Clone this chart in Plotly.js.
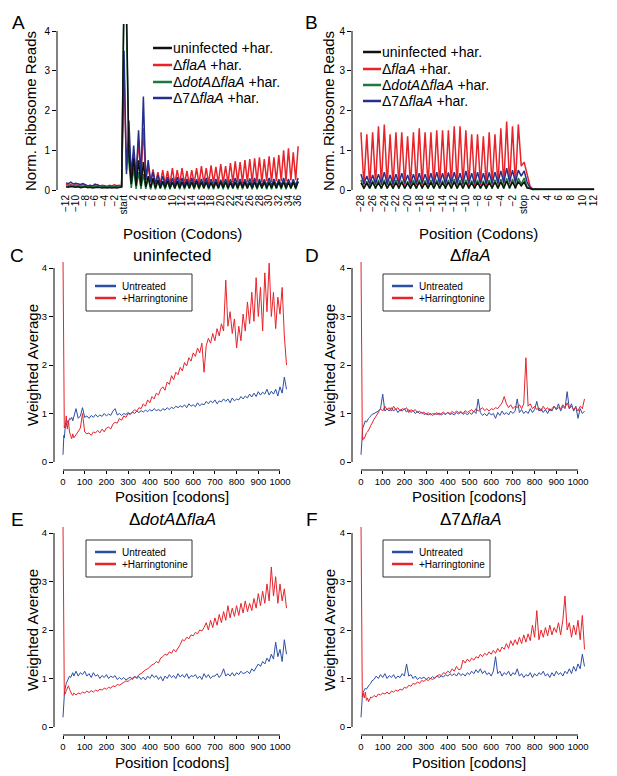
<!DOCTYPE html>
<html><head><meta charset="utf-8">
<script src="https://cdn.plot.ly/plotly-3.0.1.min.js"></script>
<style>body{margin:0;padding:0;background:#fff}#chart{width:617px;height:776px}</style>
</head><body><div id="chart"></div>
<script>
// ---------- Panel A data (codon resolution: peak at each codon, trough between) ----------
const A_blackPre = [0.08,0.07,0.09,0.08,0.07,0.08,0.06,0.07,0.08,0.06,0.07,0.05,0.06,0.07,0.06,0.05,0.06,0.05,0.06,0.05,0.06,0.05,0.06,0.07];
const A_blackPeak = [5.0,0.95,0.8,0.75,0.7,0.35,0.3,0.25,0.22,0.24,0.2,0.22,0.2,0.21,0.2,0.22,0.2,0.21,0.19,0.2,0.21,0.2,0.19,0.2,0.21,0.2,0.19,0.2,0.21,0.2,0.19,0.2,0.21,0.2,0.19,0.2,0.21];
const A_blackTrough = [4.6,0.15,0.1,0.1,0.08,0.06,0.05,0.05,0.06,0.05,0.05,0.05,0.06,0.05,0.05,0.05,0.06,0.05,0.05,0.05,0.06,0.05,0.05,0.05,0.06,0.05,0.05,0.05,0.06,0.05,0.05,0.05,0.06,0.05,0.05,0.05];
const A_redPre = [0.15,0.12,0.14,0.10,0.13,0.12,0.10,0.14,0.12,0.10,0.11,0.09,0.12,0.14,0.10,0.12,0.11,0.09,0.12,0.10,0.13,0.11,0.12,0.10];
const A_redPeak = [3.0,1.2,0.9,1.25,1.55,0.6,0.52,0.45,0.5,0.48,0.55,0.5,0.55,0.48,0.5,0.55,0.6,0.55,0.62,0.58,0.65,0.6,0.68,0.72,0.7,0.75,0.78,0.8,0.82,0.78,0.85,0.82,0.88,1.0,1.05,0.95,1.1];
const A_redTrough = [0.5,0.4,0.3,0.3,0.25,0.2,0.15,0.15,0.15,0.14,0.15,0.16,0.15,0.14,0.16,0.15,0.17,0.16,0.18,0.17,0.18,0.17,0.19,0.2,0.18,0.2,0.19,0.21,0.2,0.22,0.2,0.22,0.23,0.22,0.24,0.25];
const A_greenPre = [0.1,0.09,0.11,0.1,0.09,0.1,0.08,0.09,0.1,0.08,0.09,0.07,0.08,0.09,0.08,0.07,0.08,0.07,0.08,0.07,0.08,0.07,0.08,0.08];
const A_greenPeak = [5.0,0.7,0.55,0.45,0.4,0.3,0.25,0.22,0.2,0.22,0.2,0.21,0.22,0.2,0.21,0.22,0.2,0.21,0.22,0.2,0.21,0.22,0.2,0.21,0.22,0.2,0.21,0.22,0.2,0.21,0.22,0.2,0.21,0.22,0.2,0.21,0.22];
const A_greenTrough = [4.3,0.05,0.03,0.03,0.03,0.02,0.02,0.03,0.02,0.02,0.03,0.02,0.02,0.03,0.02,0.02,0.03,0.02,0.02,0.03,0.02,0.02,0.03,0.02,0.02,0.03,0.02,0.02,0.03,0.02,0.02,0.03,0.02,0.02,0.03,0.02];
const A_bluePre = [0.18,0.16,0.2,0.15,0.17,0.15,0.14,0.16,0.12,0.1,0.12,0.1,0.15,0.12,0.1,0.09,0.1,0.08,0.1,0.09,0.08,0.1,0.09,0.1];
const A_bluePeak = [3.5,1.75,1.12,1.5,2.35,0.75,0.45,0.38,0.35,0.33,0.3,0.32,0.3,0.28,0.3,0.27,0.28,0.3,0.27,0.28,0.26,0.28,0.27,0.3,0.28,0.27,0.29,0.3,0.28,0.27,0.3,0.28,0.27,0.3,0.28,0.27,0.3];
const A_blueTrough = [0.4,0.35,0.3,0.3,0.25,0.2,0.15,0.12,0.12,0.11,0.1,0.11,0.1,0.1,0.11,0.1,0.1,0.11,0.1,0.1,0.11,0.1,0.1,0.11,0.1,0.1,0.11,0.1,0.1,0.11,0.1,0.1,0.11,0.1,0.1,0.11];
const A_tickVals = [-12,-10,-8,-6,-4,-2,0,2,4,6,8,10,12,14,16,18,20,22,24,26,28,30,32,34,36];
const A_tickText = ['\u221212','\u221210','\u22128','\u22126','\u22124','\u22122','start','2','4','6','8','10','12','14','16','18','20','22','24','26','28','30','32','34','36'];

// ---------- Panel B data (codons -28..12) ----------
const B_blackPeak = [0.18,0.17,0.19,0.18,0.2,0.17,0.18,0.19,0.17,0.18,0.19,0.18,0.19,0.2,0.18,0.19,0.2,0.18,0.19,0.18,0.19,0.17,0.18,0.19,0.2,0.22,0.2,0.21,0.2,0.04,0.02,0.02,0.02,0.02,0.02,0.02,0.02,0.02,0.02,0.02,0.02];
const B_blackTrough = [0.05,0.05,0.06,0.05,0.05,0.05,0.06,0.05,0.05,0.05,0.06,0.05,0.05,0.05,0.06,0.05,0.05,0.05,0.06,0.05,0.05,0.05,0.06,0.05,0.05,0.06,0.06,0.1,0.05,0.02,0.02,0.02,0.02,0.02,0.02,0.02,0.02,0.02,0.02,0.02];
const B_redPeak = [1.45,1.4,1.45,1.6,1.65,1.4,1.45,1.45,1.35,1.45,1.55,1.45,1.45,1.5,1.5,1.5,1.6,1.6,1.5,1.4,1.4,1.35,1.45,1.4,1.55,1.72,1.6,1.65,0.7,0.1,0.03,0.02,0.02,0.02,0.02,0.02,0.02,0.02,0.02,0.02,0.02];
const B_redTrough = [0.12,0.1,0.12,0.13,0.12,0.1,0.12,0.11,0.1,0.12,0.12,0.11,0.12,0.12,0.11,0.12,0.13,0.12,0.11,0.1,0.11,0.1,0.12,0.11,0.12,0.14,0.13,0.6,0.4,0.02,0.02,0.02,0.02,0.02,0.02,0.02,0.02,0.02,0.02,0.02];
const B_greenPeak = [0.25,0.22,0.24,0.25,0.26,0.23,0.25,0.24,0.22,0.25,0.26,0.24,0.25,0.26,0.24,0.25,0.27,0.25,0.26,0.24,0.25,0.23,0.25,0.26,0.27,0.3,0.28,0.3,0.3,0.04,0.02,0.01,0.01,0.01,0.01,0.01,0.01,0.01,0.01,0.01,0.01];
const B_greenTrough = [0.03,0.03,0.03,0.03,0.03,0.03,0.03,0.03,0.03,0.03,0.03,0.03,0.03,0.03,0.03,0.03,0.03,0.03,0.03,0.03,0.03,0.03,0.03,0.03,0.03,0.03,0.03,0.15,0.08,0.01,0.01,0.01,0.01,0.01,0.01,0.01,0.01,0.01,0.01,0.01];
const B_bluePeak = [0.4,0.35,0.38,0.4,0.45,0.38,0.4,0.42,0.38,0.4,0.42,0.4,0.42,0.45,0.42,0.44,0.45,0.42,0.48,0.42,0.45,0.42,0.44,0.45,0.48,0.55,0.5,0.5,0.48,0.06,0.02,0.02,0.02,0.02,0.02,0.02,0.02,0.02,0.02,0.02,0.02];
const B_blueTrough = [0.15,0.14,0.15,0.16,0.15,0.14,0.15,0.16,0.14,0.15,0.16,0.15,0.15,0.16,0.15,0.16,0.17,0.15,0.16,0.15,0.16,0.15,0.16,0.17,0.18,0.2,0.19,0.35,0.2,0.02,0.02,0.02,0.02,0.02,0.02,0.02,0.02,0.02,0.02,0.02];
const B_tickVals = [-28,-26,-24,-22,-20,-18,-16,-14,-12,-10,-8,-6,-4,-2,0,2,4,6,8,10,12];
const B_tickText = ['\u221228','\u221226','\u221224','\u221222','\u221220','\u221218','\u221216','\u221214','\u221212','\u221210','\u22128','\u22126','\u22124','\u22122','stop','2','4','6','8','10','12'];

// ---------- Panels C-F data: weighted average vs position (codons) ----------
const earlyPos = [0,2,4,6,8,10,15,20,25,30,35,40,45,50];
const C_untreated = [0.15,0.45,0.55,0.5,0.65,0.7,0.75,0.85,0.82,0.9,0.88,0.92,0.85,0.95,
 1.1,0.9,0.95,1.12,0.92,0.95,0.9,0.96,0.92,0.98,
 0.93,0.97,0.94,1.0,0.95,0.99,0.96,1.05,1.1,0.97,
 1.0,0.96,1.0,0.98,1.02,0.99,1.03,1.0,1.05,1.02,
 1.06,1.03,1.07,1.04,1.08,1.05,1.1,1.06,1.08,1.05,
 1.1,1.07,1.12,1.08,1.13,1.1,1.15,1.12,1.16,1.13,
 1.18,1.12,1.2,1.15,1.18,1.14,1.22,1.16,1.2,1.18,
 1.25,1.2,1.26,1.22,1.28,1.2,1.26,1.24,1.3,1.25,
 1.3,1.22,1.32,1.26,1.3,1.28,1.35,1.3,1.36,1.32,
 1.4,1.34,1.42,1.35,1.45,1.38,1.44,1.4,1.5,1.38,
 1.46,1.4,1.5,1.36,1.55,1.42,1.75,1.5];
const C_harr = [4.2,2.9,0.85,0.7,0.75,0.72,0.95,0.68,0.85,0.62,0.55,0.48,0.58,0.5,
 0.56,0.62,0.7,1.0,0.62,0.58,0.6,0.55,0.62,0.6,
 0.65,0.6,0.68,0.62,0.7,0.72,0.68,0.78,0.82,0.8,
 0.9,0.86,0.95,0.92,1.0,0.98,1.02,1.08,1.05,1.12,
 1.1,1.2,1.15,1.28,1.22,1.35,1.3,1.42,1.38,1.5,
 1.55,1.48,1.65,1.6,1.78,1.7,1.85,1.8,1.95,1.88,
 2.05,1.98,2.15,2.08,2.25,2.18,2.35,2.25,2.45,1.85,
 2.4,2.55,2.45,2.65,2.5,2.75,2.6,2.85,2.7,3.75,
 2.8,3.1,2.65,2.95,2.35,2.8,2.5,3.05,2.7,3.3,
 2.85,3.5,2.9,3.8,3.0,3.6,2.7,3.9,3.1,4.1,
 3.0,3.5,2.75,3.4,3.05,3.6,2.6,2.0];
const D_untreated = [0.15,0.35,0.5,0.6,0.7,0.72,0.8,0.85,0.82,0.88,0.9,0.92,0.95,0.98,
 1.0,1.02,1.05,1.1,1.4,1.05,1.1,1.05,1.12,1.05,
 1.1,1.02,1.08,1.05,1.1,1.03,1.08,1.02,1.06,1.0,
 1.04,1.0,1.03,0.98,1.0,0.97,1.0,0.96,1.0,0.98,
 1.01,0.97,1.0,0.98,1.02,0.98,1.0,0.97,1.02,0.99,
 1.03,0.98,1.02,0.97,1.02,0.98,1.05,1.0,1.3,1.02,
 0.96,1.0,0.95,1.02,0.97,1.0,0.9,1.02,0.96,1.05,
 0.98,1.02,0.97,1.05,1.0,1.05,1.3,1.02,1.08,1.0,
 1.05,1.0,1.1,1.02,1.08,1.25,1.05,1.1,1.02,1.08,
 1.0,1.1,1.05,1.15,1.08,1.2,1.05,1.15,1.1,1.45,
 1.1,1.2,1.05,1.15,0.9,1.1,1.0,1.05];
const D_harr = [4.2,1.5,0.8,0.5,0.45,0.5,0.48,0.55,0.6,0.62,0.68,0.7,0.75,0.8,
 0.88,0.95,1.02,1.1,1.05,1.15,1.08,1.12,1.05,1.15,
 1.08,1.12,1.05,1.1,1.08,1.12,1.02,1.08,1.05,1.08,
 1.02,1.05,1.0,1.03,0.98,1.02,0.97,1.0,0.98,1.02,
 0.97,1.0,1.03,0.99,1.02,1.0,1.04,1.01,1.05,1.02,
 1.04,1.0,1.06,1.02,1.05,1.08,1.03,1.1,1.05,1.08,
 1.12,1.06,1.1,1.05,1.1,1.08,1.12,1.1,1.15,1.22,
 1.35,1.2,1.12,1.18,1.1,1.15,1.12,1.18,1.1,1.2,
 2.15,1.15,1.2,1.1,1.15,1.08,1.12,1.05,1.15,1.08,
 1.12,1.05,1.1,1.15,1.08,1.12,1.1,1.18,1.12,1.22,
 1.1,1.15,1.08,1.12,1.05,1.15,1.1,1.3];
const E_untreated = [0.2,0.5,0.6,0.65,0.75,0.8,0.9,0.95,1.0,1.05,1.02,1.08,1.12,1.05,
 1.15,1.05,1.12,1.08,1.15,1.05,1.1,1.02,1.12,1.05,
 1.08,1.0,1.06,1.02,1.08,1.0,1.05,1.02,1.06,0.98,
 1.02,0.98,1.02,0.97,1.0,1.03,0.98,1.05,1.0,1.04,
 0.98,1.03,0.97,1.05,1.0,1.08,1.02,1.06,0.98,1.04,
 0.95,1.05,1.0,1.08,1.02,1.06,1.0,1.1,1.03,1.08,
 1.02,1.1,1.0,1.06,1.04,1.08,1.0,1.05,0.98,1.1,
 1.02,1.08,1.0,1.05,1.05,1.1,1.02,1.08,1.2,1.05,
 1.1,1.05,1.12,1.05,1.12,1.08,1.15,1.1,1.12,1.15,
 1.1,1.2,1.15,1.22,1.3,1.25,1.35,1.3,1.42,1.35,
 1.5,1.4,1.75,1.45,1.6,1.35,1.8,1.5];
const E_harr = [4.2,2.5,0.8,0.65,0.7,0.68,0.75,0.8,0.85,0.78,0.72,0.68,0.65,0.7,
 0.66,0.7,0.68,0.72,0.7,0.74,0.71,0.75,0.72,0.76,
 0.74,0.78,0.76,0.8,0.78,0.82,0.8,0.85,0.83,0.88,
 0.86,0.9,0.92,0.95,0.94,0.98,1.0,1.03,1.02,1.08,
 1.1,1.15,1.18,1.2,1.25,1.28,1.3,1.35,1.32,1.42,
 1.45,1.5,1.48,1.55,1.52,1.6,1.55,1.62,1.7,1.8,
 1.78,1.85,1.82,1.9,1.88,1.95,1.92,2.0,1.98,2.05,
 2.15,2.0,2.2,2.05,2.25,2.1,2.32,2.15,2.38,2.2,
 2.5,2.25,2.45,2.28,2.5,2.3,2.55,2.35,2.6,2.38,
 2.55,2.4,2.65,2.45,2.75,2.5,2.8,2.55,2.95,2.6,
 3.3,2.7,3.1,2.55,2.95,2.6,2.85,2.45];
const F_untreated = [0.2,0.5,0.6,0.62,0.7,0.72,0.75,0.8,0.78,0.82,0.85,0.88,0.9,0.95,
 0.98,1.05,1.0,1.08,1.02,1.1,1.0,1.06,1.02,1.08,
 1.0,1.05,1.02,1.1,1.05,1.3,1.05,1.08,1.0,1.05,
 0.98,1.02,1.0,1.03,0.98,1.02,1.0,1.04,1.0,1.06,
 1.02,1.05,1.03,1.08,1.05,1.1,1.06,1.1,1.05,1.12,
 1.06,1.1,1.05,1.12,1.08,1.15,1.1,1.18,1.12,1.2,
 1.1,1.16,1.08,1.12,1.05,1.15,1.45,1.1,1.15,1.05,
 1.12,1.08,1.15,1.05,1.12,1.08,1.2,1.05,1.1,1.02,
 1.08,1.05,1.12,1.02,1.1,1.05,1.12,1.08,1.15,1.05,
 1.1,1.02,1.12,1.05,1.15,1.08,1.12,1.05,1.15,1.1,
 1.2,1.1,1.25,1.15,1.3,1.2,1.5,1.25];
const F_harr = [4.2,2.8,0.75,0.62,0.65,0.7,0.6,0.72,0.55,0.6,0.52,0.58,0.62,0.6,
 0.65,0.62,0.68,0.66,0.7,0.68,0.72,0.68,0.74,0.72,
 0.76,0.74,0.78,0.76,0.82,0.8,0.86,0.84,0.9,0.88,
 0.93,0.9,0.96,0.94,0.98,0.96,1.0,0.98,1.02,1.05,
 1.08,1.06,1.12,1.1,1.15,1.12,1.2,1.15,1.25,1.18,
 1.2,1.38,1.32,1.4,1.35,1.42,1.38,1.45,1.42,1.5,
 1.45,1.52,1.48,1.55,1.5,1.58,1.52,1.62,1.55,1.65,
 1.6,1.72,1.62,1.78,1.68,1.8,1.7,1.85,1.72,1.9,
 1.75,1.92,1.78,2.1,1.85,2.4,1.8,2.0,1.85,2.05,
 1.88,2.1,1.9,2.05,1.95,2.15,1.9,2.2,2.7,2.0,
 2.15,1.85,2.1,1.9,2.2,1.8,2.3,1.6];
const CF_tickVals = [0,100,200,300,400,500,600,700,800,900,1000];

// ---------- helpers ----------
const W = 617, H = 776;
const px = x => x / W, py = y => 1 - y / H;
function codonSeries(pre, peaks, troughs) {
  const v = pre.slice();
  for (let i = 0; i < peaks.length; i++) { v.push(peaks[i]); if (i < troughs.length) v.push(troughs[i]); }
  return v;
}
function halfSteps(start, n) { const x = []; for (let i = 0; i < n; i++) x.push(start + i * 0.5); return x; }
function positions(n) { const x = earlyPos.slice(); for (let k = 0; x.length < n; k++) x.push(60 + 10 * k); return x; }

const COL = {black:'#111111', red:'#e8232a', green:'#1d7a3b', navy:'#262f8c', blue:'#2c4ea3'};
const traces = [];
function addAB(pre, pk, tr, start, color, xa, ya) {
  const y = codonSeries(pre, pk, tr);
  traces.push({type:'scatter', mode:'lines', x: halfSteps(start, y.length), y: y, xaxis: xa, yaxis: ya,
    line:{color: color, width: 1.5}, showlegend:false, hoverinfo:'skip'});
}
addAB(A_redPre, A_redPeak, A_redTrough, -12, COL.red, 'x', 'y');
addAB(A_bluePre, A_bluePeak, A_blueTrough, -12, COL.navy, 'x', 'y');
addAB(A_greenPre, A_greenPeak, A_greenTrough, -12, COL.green, 'x', 'y');
addAB(A_blackPre, A_blackPeak, A_blackTrough, -12, COL.black, 'x', 'y');
addAB([], B_redPeak, B_redTrough, -28, COL.red, 'x2', 'y2');
addAB([], B_bluePeak, B_blueTrough, -28, COL.navy, 'x2', 'y2');
addAB([], B_greenPeak, B_greenTrough, -28, COL.green, 'x2', 'y2');
addAB([], B_blackPeak, B_blackTrough, -28, COL.black, 'x2', 'y2');

function addCF(vals, color, xa, ya) {
  traces.push({type:'scatter', mode:'lines', x: positions(vals.length), y: vals, xaxis: xa, yaxis: ya,
    line:{color: color, width: 1}, showlegend:false, hoverinfo:'skip'});
}
addCF(C_untreated, COL.blue, 'x3', 'y3'); addCF(C_harr, COL.red, 'x3', 'y3');
addCF(D_untreated, COL.blue, 'x4', 'y4'); addCF(D_harr, COL.red, 'x4', 'y4');
addCF(E_untreated, COL.blue, 'x5', 'y5'); addCF(E_harr, COL.red, 'x5', 'y5');
addCF(F_untreated, COL.blue, 'x6', 'y6'); addCF(F_harr, COL.red, 'x6', 'y6');

// ---------- layout ----------
const FONT = 'Liberation Sans, Arial, sans-serif';
const boxes = {A:[57,302,24,192], B:[352,597,24,192], C:[54,289,262,470], D:[352,587,262,470], E:[54,289,527,735], F:[352,587,527,735]};
function dom(b) { return {x:[px(b[0]), px(b[1])], y:[py(b[3]), py(b[2])]}; }
const layout = {width: W, height: H, margin:{l:0,r:0,t:0,b:0}, paper_bgcolor:'#fff', plot_bgcolor:'rgba(0,0,0,0)',
  font:{family: FONT, color:'#000'}, showlegend:false, shapes:[], annotations:[]};
function yAx(b, range, tfs, anchor) {
  return {domain: dom(b).y, anchor: anchor, range: range, tickvals:[0,1,2,3,4], ticks:'outside', ticklen:4, tickcolor:'#000',
    showgrid:false, zeroline:false, showline:false, tickfont:{size: tfs, family: FONT}};
}
const names = ['A','B','C','D','E','F'];
const axKeys = [['xaxis','yaxis','x','y'],['xaxis2','yaxis2','x2','y2'],['xaxis3','yaxis3','x3','y3'],['xaxis4','yaxis4','x4','y4'],['xaxis5','yaxis5','x5','y5'],['xaxis6','yaxis6','x6','y6']];
names.forEach((n, i) => {
  const b = boxes[n], k = axKeys[i];
  if (i < 2) {
    layout[k[1]] = yAx(b, [-0.05, 4.176], 10, k[2]);
    layout[k[0]] = {domain: dom(b).x, anchor: k[3], range: i === 0 ? [-13.86, 36.8] : [-29.54, 12.5],
      tickvals: i === 0 ? A_tickVals : B_tickVals, ticktext: i === 0 ? A_tickText : B_tickText,
      tickangle:-90, ticks:'', showgrid:false, zeroline:false, showline:false,
      tickfont:{size:10, family: FONT}};
  } else {
    layout[k[1]] = yAx(b, [-0.165, 4.124], 9.5, k[2]);
    layout[k[0]] = {domain: dom(b).x, anchor: k[3], range:[-41.5, 1041.5], tickvals: CF_tickVals, tickangle:0,
      ticks:'outside', ticklen:3, tickcolor:'#000', showgrid:false, zeroline:false, showline:false,
      tickfont:{size:9.5, family: FONT}};
    layout.shapes.push({type:'line', xref: k[2], yref: k[3] + ' domain', x0:0, x1:1000, y0:0, y1:0, line:{color:'#000', width:1}});
  }
  layout.shapes.push({type:'line', xref: k[2] + ' domain', yref: k[3], x0:0, x1:0, y0:0, y1:4, line:{color:'#000', width:1}});
});

function ann(text, x, y, size, extra) {
  layout.annotations.push(Object.assign({text: text, xref:'paper', yref:'paper', x: px(x), y: py(y), xanchor:'center', yanchor:'middle',
    showarrow:false, borderpad:0, font:{size: size, family: FONT}}, extra || {}));
}
// axis titles
[['Position (Codons)',183,233],['Position (Codons)',478,233],['Position [codons]',172,497],['Position [codons]',469,497],['Position [codons]',172,762],['Position [codons]',469,762]].forEach(t => ann(t[0], t[1], t[2], 15));
[['Norm. Ribosome Reads',31,111],['Norm. Ribosome Reads',329,111],['Weighted Average',32,365],['Weighted Average',329,365],['Weighted Average',32,630],['Weighted Average',329,630]].forEach(t => ann(t[0], t[1], t[2], 15, {textangle:-90}));
// panel letters
[['A',18,22],['B',312,22],['C',17,256],['D',312,256],['E',17,519],['F',312,519]].forEach(l => ann(l[0], l[1], l[2], 19));
// panel titles C-F
[['uninfected',172,256],['\u0394<i>flaA</i>',470,256],['\u0394<i>dotA</i>\u0394<i>flaA</i>',172,519],['\u03947\u0394<i>flaA</i>',470,519]].forEach(t => ann(t[0], t[1], t[2], 17));
// legends A & B
const legAB = [['uninfected +har.', COL.black], ['\u0394<i>flaA</i> +har.', COL.red], ['\u0394<i>dotA</i>\u0394<i>flaA</i> +har.', COL.green], ['\u03947\u0394<i>flaA</i> +har.', COL.navy]];
[[153,172,[48,65,82,98]],[363,381,[52,69,85,101]]].forEach(g => {
  legAB.forEach((e, j) => {
    const yy = g[2][j];
    layout.shapes.push({type:'line', xref:'paper', yref:'paper', x0:px(g[0]), x1:px(g[1]), y0:py(yy), y1:py(yy), line:{color:e[1], width:2.5}});
    ann(e[0], g[1], yy, 14, {xanchor:'left'});
  });
});
// legends C-F
[[86,192,274,311],[383,490,274,311],[86,192,540,577],[383,490,540,577]].forEach(bx => {
  layout.shapes.push({type:'rect', xref:'paper', yref:'paper', x0:px(bx[0]), x1:px(bx[1]), y0:py(bx[3]), y1:py(bx[2]), line:{color:'#333', width:1}, fillcolor:'rgba(255,255,255,0)'});
  [['Untreated', COL.blue, 12], ['+Harringtonine', COL.red, 24]].forEach(e => {
    const yy = bx[2] + e[2];
    layout.shapes.push({type:'line', xref:'paper', yref:'paper', x0:px(bx[0] + 9), x1:px(bx[0] + 30), y0:py(yy), y1:py(yy), line:{color:e[1], width:2.5}});
    ann(e[0], bx[0] + 35, yy, 10, {xanchor:'left'});
  });
});

Plotly.newPlot('chart', traces, layout, {displayModeBar:false, staticPlot:true});
</script></body></html>
